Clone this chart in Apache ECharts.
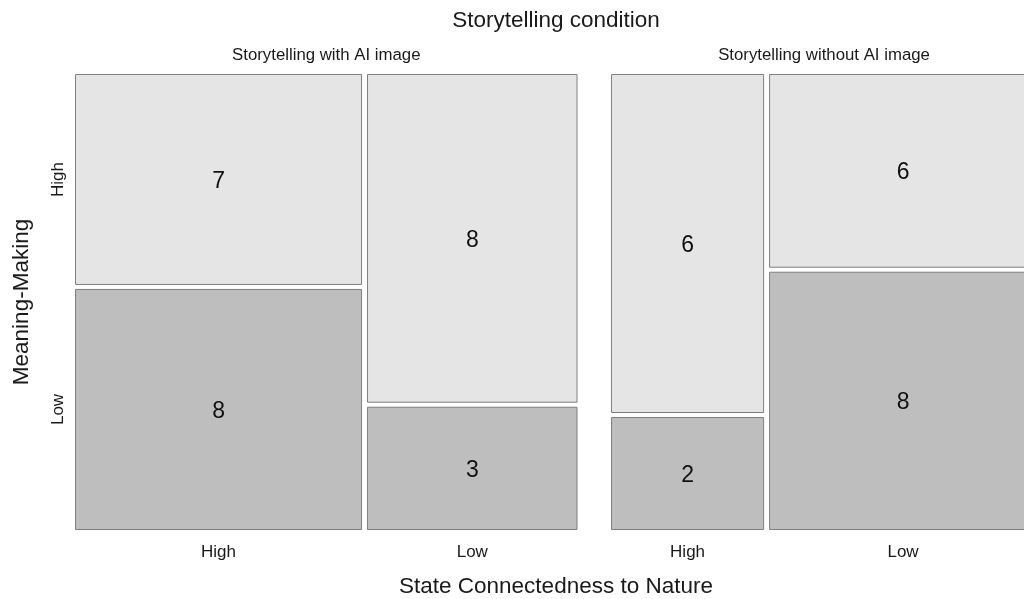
<!DOCTYPE html>
<html>
<head>
<meta charset="utf-8">
<script src="https://cdn.jsdelivr.net/npm/echarts@6/dist/echarts.min.js"></script>
<style>
  html, body { margin: 0; padding: 0; background: #fff; }
  #chart { width: 1024px; height: 599px; }
</style>
</head>
<body>
<div id="chart"></div>
<script>
// Facets (storytelling condition), x levels (connectedness), y levels (meaning-making)
const panels = ['Storytelling with AI image', 'Storytelling without AI image'];
const natureLevels = ['High', 'Low'];
const meaningLevels = ['High', 'Low'];

// Counts per connectedness level, split by meaning-making
const withAiMeaningHigh = [7, 8];
const withAiMeaningLow = [8, 3];
const withoutAiMeaningHigh = [6, 6];
const withoutAiMeaningLow = [2, 8];

const panelHigh = [withAiMeaningHigh, withoutAiMeaningHigh];
const panelLow = [withAiMeaningLow, withoutAiMeaningLow];

// Spacing in data units
const CELL_GAP_X = 0.26;   // between columns inside a panel
const PANEL_GAP_X = 1.75;  // between panels
const CELL_GAP_Y = 0.0088; // between stacked cells (y in proportion 0..1)

const FILL_HIGH = '#e5e5e5';
const FILL_LOW = '#bebebe';
const FONT = '"Liberation Sans", Arial, sans-serif';

// Build mosaic tiles
const tiles = [];
const xTicks = [];
const strips = [];
let cursor = 0;
panels.forEach((p, pi) => {
  const start = cursor;
  natureLevels.forEach((lvl, ci) => {
    const hi = panelHigh[pi][ci];
    const lo = panelLow[pi][ci];
    const n = hi + lo;
    const x0 = cursor, x1 = cursor + n;
    const avail = 1 - CELL_GAP_Y;
    const loTop = avail * lo / n;
    tiles.push({ x0, x1, y0: 0, y1: loTop, count: lo, level: 'Low' });
    tiles.push({ x0, x1, y0: loTop + CELL_GAP_Y, y1: 1, count: hi, level: 'High' });
    xTicks.push({ x: (x0 + x1) / 2, label: lvl });
    cursor = x1 + (ci < natureLevels.length - 1 ? CELL_GAP_X : 0);
  });
  strips.push({ x: (start + cursor) / 2, label: p });
  cursor += PANEL_GAP_X;
});
const xMax = cursor - PANEL_GAP_X;

// y label positions from the first column
const firstLow = tiles[0], firstHigh = tiles[1];
const yTicks = [
  { y: (firstHigh.y0 + firstHigh.y1) / 2, label: meaningLevels[0] },
  { y: (firstLow.y0 + firstLow.y1) / 2, label: meaningLevels[1] }
];

// The right-hand panel runs past the page edge: the plot spans 962px
// from the left margin, of which 949px are visible.
const PLOT_LEFT = 75, PLOT_SPAN = 962, VISIBLE_SPAN = 1024 - PLOT_LEFT;
const xVisibleMax = xMax * VISIBLE_SPAN / PLOT_SPAN;

const chart = echarts.init(document.getElementById('chart'));
chart.setOption({
  animation: false,
  grid: { left: PLOT_LEFT, top: 74, right: 0, bottom: 69 },
  xAxis: { type: 'value', min: 0, max: xVisibleMax, show: false },
  yAxis: { type: 'value', min: 0, max: 1, show: false },
  series: [
    {
      type: 'custom',
      clip: false,
      data: tiles.map(t => [t.x0, t.x1, t.y0, t.y1, t.count]),
      renderItem: function (params, api) {
        const p0 = api.coord([api.value(0), api.value(3)]);
        const p1 = api.coord([api.value(1), api.value(2)]);
        const level = tiles[params.dataIndex].level;
        return {
          type: 'group',
          children: [
            {
              type: 'rect',
              shape: { x: p0[0] + 0.5, y: p0[1] + 0.5, width: p1[0] - p0[0] - 1, height: p1[1] - p0[1] - 1 },
              style: { fill: level === 'High' ? FILL_HIGH : FILL_LOW, stroke: '#7f7f7f', lineWidth: 1 }
            },
            {
              type: 'text',
              style: {
                x: (p0[0] + p1[0]) / 2, y: (p0[1] + p1[1]) / 2 + 2,
                text: String(api.value(4)), fill: '#111', font: '23px ' + FONT,
                align: 'center', verticalAlign: 'middle'
              }
            }
          ]
        };
      }
    },
    {
      // connectedness tick labels under each column
      type: 'custom',
      clip: false,
      data: xTicks.map(t => [t.x]),
      renderItem: function (params, api) {
        const p = api.coord([api.value(0), 0]);
        return {
          type: 'text',
          style: { x: p[0], y: p[1] + 22, text: xTicks[params.dataIndex].label, fill: '#1a1a1a', font: '17px ' + FONT, align: 'center', verticalAlign: 'middle' }
        };
      }
    },
    {
      // facet strip labels
      type: 'custom',
      clip: false,
      data: strips.map(s => [s.x]),
      renderItem: function (params, api) {
        const p = api.coord([api.value(0), 1]);
        return {
          type: 'text',
          style: { x: p[0], y: p[1] - 19, text: strips[params.dataIndex].label, fill: '#1a1a1a', font: '16.8px ' + FONT, align: 'center', verticalAlign: 'middle' }
        };
      }
    },
    {
      // meaning-making tick labels
      type: 'custom',
      clip: false,
      data: yTicks.map(t => [0, t.y]),
      renderItem: function (params, api) {
        const p = api.coord([0, api.value(1)]);
        return {
          type: 'text',
          x: p[0] - 17, y: p[1], rotation: Math.PI / 2,
          style: { x: 0, y: 0, text: yTicks[params.dataIndex].label, fill: '#1a1a1a', font: '17px ' + FONT, align: 'center', verticalAlign: 'middle' }
        };
      }
    },
    {
      // titles centred over the plotting area
      type: 'custom',
      clip: false,
      data: [[xMax / 2, 0]],
      renderItem: function (params, api) {
        const top = api.coord([api.value(0), 1]);
        const bottom = api.coord([api.value(0), 0]);
        const left = api.coord([0, 0.5]);
        return {
          type: 'group',
          children: [
            { type: 'text', style: { x: top[0], y: 21, text: 'Storytelling condition', fill: '#1a1a1a', font: '22.5px ' + FONT, align: 'center', verticalAlign: 'middle' } },
            { type: 'text', style: { x: bottom[0], y: bottom[1] + 57, text: 'State Connectedness to Nature', fill: '#1a1a1a', font: '22.5px ' + FONT, align: 'center', verticalAlign: 'middle' } },
            { type: 'text', x: 22, y: left[1], rotation: Math.PI / 2, style: { x: 0, y: 0, text: 'Meaning-Making', fill: '#1a1a1a', font: '22.5px ' + FONT, align: 'center', verticalAlign: 'middle' } }
          ]
        };
      }
    }
  ]
});
</script>
</body>
</html>
